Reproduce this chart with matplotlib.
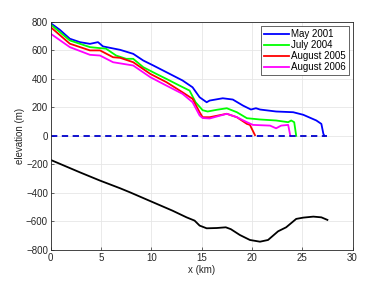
import matplotlib.pyplot as plt
import numpy as np

# surface profiles (x in km, elevation in m)
x_2001 = [0, 0.9, 1.9, 2.9, 3.9, 4.7, 5.2, 5.9, 6.9, 8.2, 9.2, 10.2, 11.5, 13.1, 14.1, 14.8,
          15.5, 15.8, 17.1, 18.1, 19.1, 19.9, 20.4, 20.8, 22.4, 24.1, 25.1, 26.4, 26.9, 27.1, 27.2]
z_2001 = [791, 745, 682, 658, 646, 658, 628, 618, 604, 576, 529, 494, 447, 389, 341, 271,
          236, 248, 264, 255, 213, 185, 194, 185, 171, 166, 148, 108, 84, 14, 0]

x_2004 = [0, 1.9, 3.9, 4.9, 5.5, 6.5, 7.5, 8.2, 9.2, 10.5, 11.5, 12.8, 13.8, 14.4, 15.1,
          15.6, 16.5, 17.5, 18.5, 19.5, 20.8, 22.4, 23.6, 23.9, 24.2, 24.4]
z_2004 = [782, 670, 623, 616, 612, 564, 541, 541, 482, 435, 400, 353, 318, 236, 180,
          171, 183, 194, 166, 124, 115, 108, 96, 108, 96, 0]

x_2005 = [0, 1.9, 3.9, 4.9, 6.2, 6.9, 8.2, 9.9, 11.5, 13.1, 14.1, 14.8, 15.1, 15.8,
          17.5, 18.5, 19.5, 19.8, 20.3]
z_2005 = [763, 647, 600, 600, 552, 548, 517, 435, 377, 306, 260, 166, 131, 131,
          155, 131, 84, 77, 5]

x_2006 = [0, 1.9, 3.9, 4.9, 6.2, 8.2, 9.9, 11.5, 13.1, 14.1, 14.8, 15.1, 15.8, 17.5,
          18.5, 19.5, 20.1, 21.8, 22.4, 22.9, 23.6, 23.8]
z_2006 = [717, 623, 569, 564, 517, 494, 412, 353, 295, 236, 143, 125, 122, 155,
          131, 96, 77, 72, 53, 72, 77, 5]

# sea level and bed
x_sea = [0, 27.5]
z_sea = [0, 0]

x_bed = [0, 2.9, 4.9, 6.9, 7.9, 9.8, 12.1, 13.5, 14.3, 14.8, 15.5, 16.5, 17.4, 17.9,
         18.8, 19.8, 20.8, 21.6, 22.6, 23.4, 24.4, 25.1, 26.1, 26.9, 27.5]
z_bed = [-169, -256, -314, -368, -397, -455, -525, -572, -595, -630, -649, -647, -642, -655,
         -696, -731, -743, -731, -670, -642, -583, -574, -567, -572, -590]

plt.rcParams['font.family'] = 'Liberation Sans'
plt.rcParams['font.size'] = 7

fig = plt.figure(figsize=(3.9, 2.81), dpi=100)
ax = fig.add_axes([0.130, 0.111, 0.774, 0.811])

ax.plot(x_2001, z_2001, color='#0000ff', lw=1.3, label='May 2001')
ax.plot(x_2004, z_2004, color='#00ff00', lw=1.3, label='July 2004')
ax.plot(x_2005, z_2005, color='#ff0000', lw=1.3, label='August 2005')
ax.plot(x_2006, z_2006, color='#ff00ff', lw=1.3, label='August 2006')
ax.plot(x_sea, z_sea, color='#0000cc', lw=1.3, ls=(0, (3.5, 2.5)))
ax.plot(x_bed, z_bed, color='black', lw=1.3)

ax.set_xlim(0, 30)
ax.set_ylim(-800, 800)
ax.set_xticks(np.arange(0, 31, 5))
ax.set_yticks(np.arange(-800, 801, 200))
ax.set_xlabel('x (km)', color='#262626', labelpad=2)
ax.set_ylabel('elevation (m)', color='#262626', labelpad=1)

ax.grid(True, color='#e6e6e6', lw=0.6)
ax.set_axisbelow(True)
ax.tick_params(direction='in', length=2.5, width=0.5, colors='#262626', pad=2)
for s in ax.spines.values():
    s.set_color('#262626')
    s.set_linewidth(0.6)

leg = ax.legend(loc='upper right', bbox_to_anchor=(0.995, 0.99), fancybox=False,
                framealpha=1, edgecolor='#262626', handlelength=2.6, handletextpad=0.2,
                borderpad=0.3, labelspacing=0.1, borderaxespad=0.2)
leg.get_frame().set_linewidth(0.5)

fig.savefig('out.png', dpi=100)
